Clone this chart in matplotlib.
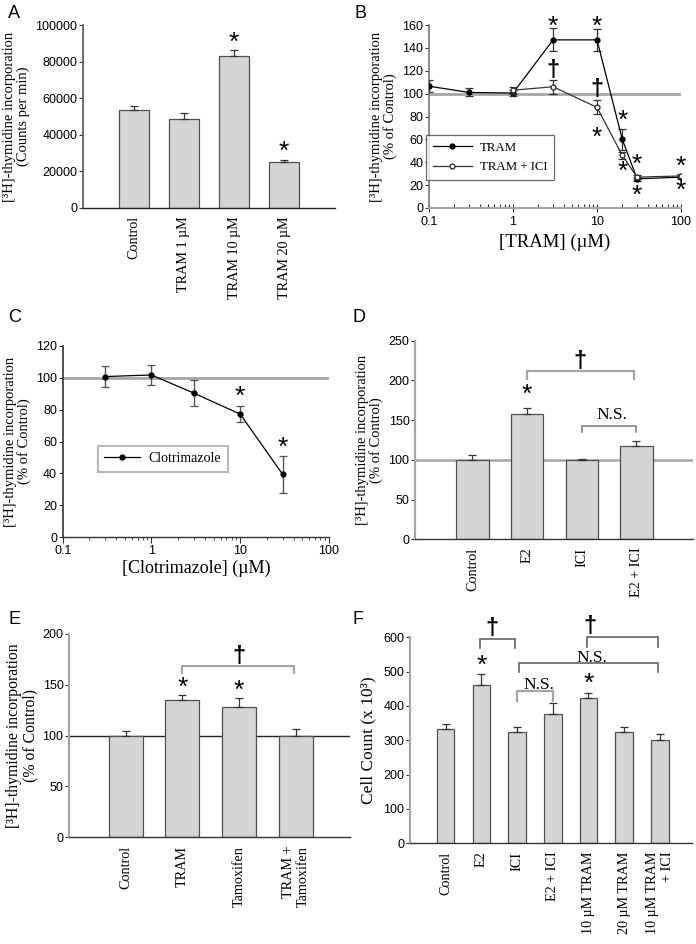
import matplotlib
matplotlib.use("Agg")
import matplotlib.pyplot as plt
from matplotlib.lines import Line2D
import numpy as np

# ---------------- data ----------------
a_labels = ["Control", "TRAM 1 µM", "TRAM 10 µM", "TRAM 20 µM"]
a_values = [53500, 48600, 83000, 25100]
a_err = [2200, 3300, 3300, 1400]

b_conc = [0.1, 0.3, 1, 3, 10, 20, 30, 100]
b_tram = [106.5, 101, 100.5, 147, 147, 60, 25.5, 27]
b_tram_err = [5.5, 3.5, 3, 10, 9.5, 9, 1.5, 1.5]
b_ici_conc = [1, 3, 10, 20, 30, 100]
b_ici = [103, 106, 88, 46, 27, 28]
b_ici_err = [3, 6, 6, 3, 1.5, 1.5]

c_conc = [0.3, 1, 3, 10, 30]
c_vals = [100.8, 101.8, 90.4, 77.2, 39.4]
c_err = [6.5, 6.2, 8, 5, 11.5]

d_labels = ["Control", "E2", "ICI", "E2 + ICI"]
d_vals = [100, 157.5, 100, 117.5]
d_err = [5.5, 7.5, 1.5, 6]

e_labels = ["Control", "TRAM", "Tamoxifen", "TRAM +\nTamoxifen"]
e_vals = [100, 135, 128, 100]
e_err = [5, 4.7, 9.5, 6.5]

f_labels = ["Control", "E2", "ICI", "E2 + ICI", "10 µM TRAM", "20 µM TRAM", "10 µM TRAM\n+ ICI"]
f_vals = [332, 460, 323, 378, 422, 323, 300]
f_err = [14.5, 32, 15, 30, 15, 15, 17.5]

# ---------------- style ----------------
SERIF = "Liberation Serif"
SANS = "Liberation Sans"
BAR_FC = "#d4d4d4"
BAR_EC = "#505050"
GREY = "#a6a6a6"
W, H = 696, 944
TICK_FS = 9

fig = plt.figure(figsize=(6.96, 9.44), dpi=100)


def add_axes(x0, x1, y0, y1):
    return fig.add_axes([x0 / W, 1 - y1 / H, (x1 - x0) / W, (y1 - y0) / H])


def style(ax, left_col="#777777", bottom_col="#222222"):
    for s in ["top", "right"]:
        ax.spines[s].set_visible(False)
    ax.spines["left"].set_color(left_col)
    ax.spines["bottom"].set_color(bottom_col)
    ax.spines["left"].set_linewidth(1.2)
    ax.spines["bottom"].set_linewidth(1.0)
    ax.tick_params(axis="y", direction="out", length=3, width=0.8, color="#333333",
                   labelsize=TICK_FS, pad=1)
    for t in ax.get_yticklabels():
        t.set_fontfamily(SANS)


def star(ax, x, y, size=19):
    ax.text(x, y, "*", ha="center", va="center", fontsize=size, family=SANS,
            clip_on=False)


def dagger(ax, x, y, size=17):
    ax.text(x, y, "†", ha="center", va="center", fontsize=size, family=SANS,
            fontweight="bold", clip_on=False)


def bracket(ax, x0, x1, ytop, ylow0, ylow1=None, color=GREY, lw=1.6):
    if ylow1 is None:
        ylow1 = ylow0
    ax.plot([x0, x0, x1, x1], [ylow0, ytop, ytop, ylow1], color=color, lw=lw,
            clip_on=False, solid_joinstyle="miter")


def bar_panel(ax, labels, vals, errs, width, xlim):
    x = np.arange(len(vals))
    ax.bar(x, vals, width=width, color=BAR_FC, edgecolor=BAR_EC, linewidth=0.9, zorder=2)
    ax.errorbar(x, vals, yerr=[np.zeros(len(errs)), errs], fmt="none", ecolor="#333333",
                elinewidth=0.9, capsize=3, capthick=0.9, zorder=3)
    ax.set_xlim(*xlim)
    ax.set_xticks(x)
    ax.set_xticklabels(labels, rotation=90, family=SERIF, fontsize=10.2,
                       va="top", ha="center", multialignment="right")
    ax.tick_params(axis="x", length=0, pad=6)
    return x


def panel_letter(x, y, s):
    fig.text(x / W, 1 - y / H, s, family=SANS, fontsize=13, ha="left", va="center")


# ---------------- A ----------------
axA = add_axes(83, 335, 25, 208)
xa = bar_panel(axA, a_labels, a_values, a_err, 0.6, (-1.02, 4.02))
axA.set_ylim(0, 100000)
axA.set_yticks(np.arange(0, 100001, 20000))
style(axA, left_col="#555555")
axA.set_ylabel("[³H]-thymidine incorporation\n(Counts per min)", family=SERIF,
               fontsize=10.5, labelpad=4, linespacing=1.0)
star(axA, 2, 90000)
star(axA, 3, 30500)
panel_letter(8, 13, "A")

# ---------------- B ----------------
axB = add_axes(429, 681, 25, 208)
axB.set_xscale("log")
axB.set_xlim(0.1, 100)
axB.set_ylim(0, 160)
axB.axhline(100, color=GREY, lw=2.0, zorder=1)
axB.errorbar(b_conc, b_tram, yerr=b_tram_err, fmt="o-", color="black", ms=3.5,
             lw=0.9, ecolor="#333333", elinewidth=0.9, capsize=3, capthick=0.9,
             zorder=3)
axB.errorbar(b_ici_conc, b_ici, yerr=b_ici_err, fmt="o-", color="#333333", ms=3.5,
             mfc="white", mec="#333333", lw=0.9, ecolor="#333333", elinewidth=0.9,
             capsize=3, capthick=0.9, zorder=4)
axB.set_yticks(np.arange(0, 161, 20))
style(axB, left_col="#777777", bottom_col=GREY)
axB.spines["bottom"].set_linewidth(1.6)
axB.set_xticks([0.1, 1, 10, 100])
axB.set_xticklabels(["0.1", "1", "10", "100"], family=SANS, fontsize=TICK_FS)
axB.tick_params(axis="x", which="major", direction="inout", length=6, width=0.8,
                color="#333333", pad=3)
axB.tick_params(axis="x", which="minor", direction="in", length=3, width=0.8,
                color="#333333")
axB.set_xlabel("[TRAM] (µM)", family=SERIF, fontsize=13.5, labelpad=4)
axB.set_ylabel("[³H]-thymidine incorporation\n(% of Control)", family=SERIF,
               fontsize=10.5, labelpad=4, linespacing=1.0)
hB = [Line2D([], [], color="black", marker="o", ms=3.5, lw=0.9),
      Line2D([], [], color="#333333", marker="o", ms=3.5, mfc="white", lw=0.9)]
legB = axB.legend(hB, ["TRAM", "TRAM + ICI"], loc="upper left",
                  bbox_to_anchor=(-0.012, 0.40),
                  prop={"family": SERIF, "size": 9.3}, frameon=True, fancybox=False,
                  edgecolor="#444444", handlelength=3.0, borderpad=0.55,
                  labelspacing=0.55, borderaxespad=0, handletextpad=0.6)
legB.get_frame().set_linewidth(0.9)
star(axB, 3, 158)
star(axB, 10, 158)
dagger(axB, 3, 120)
dagger(axB, 10, 104)
star(axB, 10, 61)
star(axB, 20, 76)
star(axB, 20, 32)
star(axB, 30, 38)
star(axB, 30, 11)
star(axB, 100, 36)
star(axB, 100, 15)
panel_letter(354, 13, "B")

# ---------------- C ----------------
axC = add_axes(62.7, 329, 346, 537)
axC.set_xscale("log")
axC.set_xlim(0.1, 100)
axC.set_ylim(0, 120)
axC.axhline(100, color=GREY, lw=2.0, zorder=1)
axC.errorbar(c_conc, c_vals, yerr=c_err, fmt="o-", color="black", ms=3.5, lw=0.9,
             ecolor="#555555", elinewidth=1.0, capsize=3, capthick=0.9, zorder=3)
axC.set_yticks(np.arange(0, 121, 20))
style(axC, left_col="#333333", bottom_col="#333333")
axC.set_xticks([0.1, 1, 10, 100])
axC.set_xticklabels(["0.1", "1", "10", "100"], family=SANS, fontsize=TICK_FS)
axC.tick_params(axis="x", which="major", direction="out", length=4, width=0.8,
                color="#333333", pad=2)
axC.tick_params(axis="x", which="minor", direction="out", length=2, width=0.6,
                color="#333333")
axC.set_xlabel("[Clotrimazole] (µM)", family=SERIF, fontsize=13, labelpad=2)
axC.set_ylabel("[³H]-thymidine incorporation\n(% of Control)", family=SERIF,
               fontsize=10.5, labelpad=4, linespacing=1.0)
hC = [Line2D([], [], color="black", marker="o", ms=3.5, lw=0.9)]
legC = axC.legend(hC, ["Clotrimazole"], loc="upper left", bbox_to_anchor=(0.133, 0.476),
                  prop={"family": SERIF, "size": 10}, frameon=True, fancybox=False,
                  edgecolor=GREY, handlelength=2.6, borderpad=0.45, borderaxespad=0,
                  handletextpad=0.6)
legC.get_frame().set_linewidth(1.5)
star(axC, 10, 88)
star(axC, 30, 56)
panel_letter(8, 317, "C")

# ---------------- D ----------------
axD = add_axes(415, 692.7, 340.7, 539.3)
xd = bar_panel(axD, d_labels, d_vals, d_err, 0.59, (-1.05, 4.03))
axD.axhline(100, color=GREY, lw=1.8, zorder=1)
axD.set_ylim(0, 250)
axD.set_yticks(np.arange(0, 251, 50))
style(axD, left_col=GREY, bottom_col="#333333")
axD.spines["left"].set_linewidth(1.6)
axD.set_ylabel("[³H]-thymidine incorporation\n(% of Control)", family=SERIF,
               fontsize=10.5, labelpad=4, linespacing=1.0)
star(axD, 1, 182)
bracket(axD, 1.0, 2.95, 212, 201.5)
dagger(axD, 1.97, 224)
bracket(axD, 2.0, 3.0, 143, 134.5, color="#777777", lw=1.1)
axD.text(2.55, 146, "N.S.", family=SERIF, fontsize=12.5, ha="center", va="bottom")
panel_letter(353, 317, "D")

# ---------------- E ----------------
axE = add_axes(69, 350, 634, 837.3)
xe = bar_panel(axE, e_labels, e_vals, e_err, 0.6, (-1.0, 3.96))
axE.axhline(100, color="#222222", lw=1.0, zorder=1)
axE.set_ylim(0, 200)
axE.set_yticks(np.arange(0, 201, 50))
style(axE, left_col=GREY, bottom_col="#333333")
axE.spines["left"].set_linewidth(1.6)
axE.set_ylabel("[³H]-thymidine incorporation\n(% of Control)", family=SERIF,
               fontsize=11.3, labelpad=3, linespacing=1.0)
star(axE, 1, 147)
star(axE, 2, 144)
bracket(axE, 1.0, 2.97, 168.5, 162)
dagger(axE, 2.0, 177.5)
panel_letter(8, 620, "E")

# ---------------- F ----------------
axF = add_axes(410, 692, 637.3, 843.3)
xf = bar_panel(axF, f_labels, f_vals, f_err, 0.49, (-1.0, 6.9))
axF.set_ylim(0, 600)
axF.set_yticks(np.arange(0, 601, 100))
style(axF, left_col=GREY, bottom_col="#333333")
axF.spines["left"].set_linewidth(1.6)
axF.set_ylabel("Cell Count (x 10³)", family=SERIF, fontsize=12.5, labelpad=5)
star(axF, 1, 516)
star(axF, 4, 463)
bracket(axF, 0.95, 1.95, 596, 568, color="#555555", lw=1.1)
dagger(axF, 1.3, 626)
bracket(axF, 3.95, 5.95, 602, 573, color="#555555", lw=1.1)
dagger(axF, 4.05, 631)
bracket(axF, 2.05, 5.95, 524, 500, color="#555555", lw=1.1)
axF.text(4.1, 517, "N.S.", family=SERIF, fontsize=12.5, ha="center", va="bottom")
bracket(axF, 2.0, 3.0, 443.7, 415, color=GREY, lw=1.6)
axF.text(2.6, 437, "N.S.", family=SERIF, fontsize=12.5, ha="center", va="bottom")
panel_letter(352, 620, "F")

fig.savefig("out.png", dpi=100)
